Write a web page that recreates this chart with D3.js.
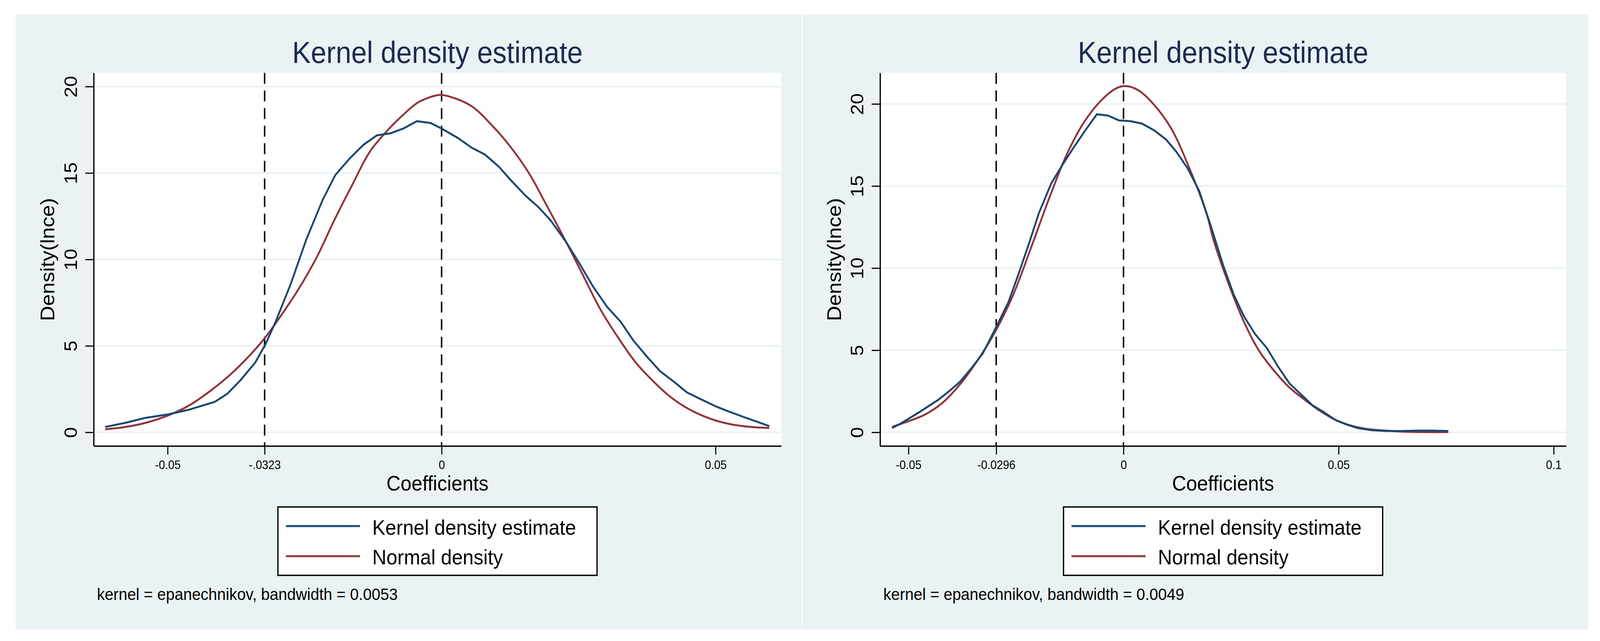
<!DOCTYPE html>
<html>
<head>
<meta charset="utf-8">
<script src="https://cdn.jsdelivr.net/npm/d3@7"></script>
<style>
  html, body { margin: 0; padding: 0; background: #ffffff; overflow: hidden; }
  svg { display: block; width: 100vw; height: 100vh; }
  text { font-family: "Liberation Sans", Arial, Helvetica, sans-serif; }
</style>
</head>
<body>
<script>
// ---- data ----
var titleText = "Kernel density estimate";
var xTitle = "Coefficients";
var yTitle = "Density(lnce)";
var legendLabels = ["Kernel density estimate", "Normal density"];
var yTicks = [0, 5, 10, 15, 20];

// left panel
var leftKdeX = [-0.0614, -0.0577, -0.0540, -0.0498, -0.0461, -0.0414, -0.0391, -0.0368, -0.0340, -0.0321, -0.0303, -0.0275, -0.0247, -0.0217, -0.0194, -0.0168, -0.0143, -0.0118, -0.0094, -0.0070, -0.0045, -0.0020, 0, 0.0030, 0.0055, 0.0079, 0.0104, 0.0127, 0.0153, 0.0176, 0.0199, 0.0227, 0.0251, 0.0276, 0.0302, 0.0327, 0.0350, 0.0376, 0.0399, 0.0425, 0.0448, 0.0474, 0.0499, 0.0525, 0.0550, 0.0574, 0.0598];
var leftKdeY = [0.31, 0.55, 0.84, 1.04, 1.31, 1.76, 2.23, 2.98, 4.04, 5.12, 6.39, 8.61, 11.15, 13.45, 14.88, 15.83, 16.62, 17.18, 17.29, 17.57, 18.00, 17.89, 17.57, 17.02, 16.46, 16.07, 15.38, 14.56, 13.69, 13.05, 12.26, 11.02, 9.80, 8.45, 7.26, 6.39, 5.31, 4.33, 3.53, 2.90, 2.30, 1.90, 1.52, 1.19, 0.90, 0.63, 0.36];
var leftNormX = [-0.0614, -0.0577, -0.0540, -0.0498, -0.0461, -0.0424, -0.0387, -0.0349, -0.0321, -0.0294, -0.0261, -0.0228, -0.0196, -0.0163, -0.0131, -0.0098, -0.0070, -0.0043, -0.0011, 0.0002, 0.0053, 0.0095, 0.0127, 0.0160, 0.0193, 0.0225, 0.0258, 0.0290, 0.0323, 0.0355, 0.0388, 0.0420, 0.0453, 0.0490, 0.0527, 0.0564, 0.0598];
var leftNormY = [0.17, 0.31, 0.55, 0.99, 1.55, 2.35, 3.30, 4.49, 5.52, 6.71, 8.29, 10.12, 12.26, 14.32, 16.23, 17.49, 18.37, 19.08, 19.48, 19.51, 18.90, 17.65, 16.46, 14.96, 13.05, 11.15, 9.09, 7.10, 5.44, 4.01, 2.90, 1.99, 1.31, 0.79, 0.47, 0.31, 0.25];
var leftRefLines = [-0.0323, 0];
var leftTicks = [-0.05, -0.0323, 0, 0.05];
var leftTickLabels = ["-0.05", "-.0323", "0", "0.05"];
var leftNote = "kernel = epanechnikov, bandwidth = 0.0053";

// right panel
var rightKdeX = [-0.0538, -0.0517, -0.0475, -0.0431, -0.0407, -0.0381, -0.0354, -0.0327, -0.0298, -0.0268, -0.0245, -0.0221, -0.0197, -0.0168, -0.0141, -0.0114, -0.0088, -0.0062, -0.0036, -0.0011, 0.0016, 0.0043, 0.0072, 0.0099, 0.0123, 0.0149, 0.0176, 0.0203, 0.0232, 0.0256, 0.0280, 0.0306, 0.0333, 0.0360, 0.0386, 0.0413, 0.0440, 0.0466, 0.0493, 0.0520, 0.0546, 0.0576, 0.0611, 0.0647, 0.0682, 0.0718, 0.0755];
var rightKdeY = [0.26, 0.55, 1.22, 1.97, 2.47, 3.05, 3.89, 4.81, 6.31, 7.90, 9.57, 11.40, 13.33, 15.16, 16.33, 17.42, 18.42, 19.37, 19.29, 19.00, 18.95, 18.80, 18.38, 17.83, 17.08, 16.08, 14.70, 12.57, 10.15, 8.40, 7.06, 5.98, 5.14, 3.97, 2.97, 2.30, 1.63, 1.22, 0.75, 0.46, 0.25, 0.13, 0.08, 0.08, 0.10, 0.10, 0.08];
var rightNormX = [-0.0538, -0.0505, -0.0464, -0.0422, -0.0381, -0.0339, -0.0298, -0.0256, -0.0215, -0.0173, -0.0132, -0.0091, -0.0049, -0.0019, 0.0003, 0.0034, 0.0069, 0.0111, 0.0152, 0.0194, 0.0209, 0.0244, 0.0280, 0.0315, 0.0351, 0.0386, 0.0422, 0.0457, 0.0493, 0.0528, 0.0564, 0.0611, 0.0659, 0.0706, 0.0755];
var rightNormY = [0.33, 0.63, 1.05, 1.77, 2.89, 4.39, 6.14, 8.40, 11.24, 14.24, 16.92, 18.92, 20.29, 20.92, 21.09, 20.84, 20.01, 18.50, 16.16, 13.24, 11.74, 9.07, 6.73, 4.97, 3.72, 2.72, 1.97, 1.30, 0.75, 0.41, 0.21, 0.10, 0.03, 0.01, 0.01];
var rightRefLines = [-0.0296, 0];
var rightTicks = [-0.05, -0.0296, 0, 0.05, 0.1];
var rightTickLabels = ["-0.05", "-0.0296", "0", "0.05", "0.1"];
var rightNote = "kernel = epanechnikov, bandwidth = 0.0049";

var bgColor = "#eaf2f3";
var kdeColor = "#1a476f";
var normColor = "#90353b";
var titleColor = "#1c2a52";

var width = 4407, height = 1640;
var svg = d3.select("body").append("svg")
  .attr("viewBox", "0 0 " + width + " " + height)
  .attr("preserveAspectRatio", "none");

function zip(xs, ys) {
  return xs.map(function(x, i) { return [x, ys[i]]; });
}

function drawPanel(p) {
  var g = svg.append("g");

  g.append("rect")
    .attr("x", p.panel[0]).attr("y", 37)
    .attr("width", p.panel[1] - p.panel[0]).attr("height", 1574)
    .attr("fill", bgColor);

  var x = d3.scaleLinear().domain(p.xDomain).range([p.plot[0], p.plot[1]]);
  var y = d3.scaleLinear().domain(p.yDomain).range([1141, 186.5]);
  var cx = (p.plot[0] + p.plot[1]) / 2;

  g.append("rect")
    .attr("x", p.plot[0]).attr("y", 186.5)
    .attr("width", p.plot[1] - p.plot[0]).attr("height", 1141 - 186.5)
    .attr("fill", "#ffffff");

  // gridlines
  g.selectAll(".grid").data(yTicks).enter().append("line")
    .attr("x1", p.plot[0]).attr("x2", p.plot[1])
    .attr("y1", function(d) { return y(d); })
    .attr("y2", function(d) { return y(d); })
    .attr("stroke", bgColor).attr("stroke-width", 4);

  // reference lines
  g.selectAll(".ref").data(p.refs).enter().append("line")
    .attr("x1", function(d) { return x(d); })
    .attr("x2", function(d) { return x(d); })
    .attr("y1", 186.5).attr("y2", 1141)
    .attr("stroke", "#000").attr("stroke-width", 4)
    .attr("stroke-dasharray", "28,17");

  var line = d3.line()
    .x(function(d) { return x(d[0]); })
    .y(function(d) { return y(d[1]); });

  g.append("path")
    .attr("d", line.curve(d3.curveCatmullRom)(zip(p.normX, p.normY)))
    .attr("fill", "none").attr("stroke", normColor).attr("stroke-width", 5)
    .attr("stroke-linejoin", "round");

  g.append("path")
    .attr("d", line.curve(d3.curveLinear)(zip(p.kdeX, p.kdeY)))
    .attr("fill", "none").attr("stroke", kdeColor).attr("stroke-width", 5)
    .attr("stroke-linejoin", "round");

  // axes
  var yAxis = g.append("g")
    .attr("transform", "translate(" + p.plot[0] + ",0)")
    .call(d3.axisLeft(y).tickValues(yTicks).tickSize(23).tickSizeOuter(0).tickFormat(d3.format("d")));
  yAxis.select(".domain").attr("stroke-width", 3.5);
  yAxis.selectAll(".tick line").attr("stroke-width", 3);
  yAxis.selectAll(".tick text")
    .attr("x", null).attr("dy", null)
    .attr("text-anchor", "middle")
    .attr("transform", "translate(-46,0) rotate(-90)")
    .attr("font-size", 50).attr("fill", "#000")
    .style("font-family", "'Liberation Sans', Arial, sans-serif");

  var xAxis = g.append("g")
    .attr("transform", "translate(0,1141)")
    .call(d3.axisBottom(x).tickValues(p.ticks).tickSize(22).tickSizeOuter(0)
      .tickFormat(function(d, i) { return p.tickLabels[i]; }));
  xAxis.select(".domain").attr("stroke-width", 3.5);
  xAxis.selectAll(".tick line").attr("stroke-width", 3);
  xAxis.selectAll(".tick text")
    .attr("y", 59).attr("dy", null)
    .attr("font-size", 31).attr("fill", "#000")
    .style("font-family", "'Liberation Sans', Arial, sans-serif");

  // titles
  g.append("text")
    .attr("x", cx).attr("y", 161)
    .attr("text-anchor", "middle")
    .attr("font-size", 77).attr("fill", titleColor)
    .text(titleText);

  g.append("text")
    .attr("x", cx).attr("y", 1255)
    .attr("text-anchor", "middle")
    .attr("font-size", 54).attr("fill", "#000")
    .text(xTitle);

  g.append("text")
    .attr("transform", "translate(" + (p.plot[0] - 108) + ",664) rotate(-90)")
    .attr("text-anchor", "middle")
    .attr("font-size", 54).attr("fill", "#000")
    .text(yTitle);

  // legend
  var lx = cx - 439.5;
  var legend = g.append("g");
  legend.append("rect")
    .attr("x", lx).attr("y", 1297)
    .attr("width", 879).attr("height", 175)
    .attr("fill", "#fff").attr("stroke", "#000").attr("stroke-width", 3.5);
  var items = [
    { label: legendLabels[0], color: kdeColor, ly: 1346, ty: 1368 },
    { label: legendLabels[1], color: normColor, ly: 1423, ty: 1444 }
  ];
  items.forEach(function(it) {
    legend.append("line")
      .attr("x1", lx + 22).attr("x2", lx + 226)
      .attr("y1", it.ly).attr("y2", it.ly)
      .attr("stroke", it.color).attr("stroke-width", 5);
    legend.append("text")
      .attr("x", lx + 260).attr("y", it.ty)
      .attr("font-size", 54).attr("fill", "#000")
      .text(it.label);
  });

  // note
  g.append("text")
    .attr("x", p.plot[0] + 9).attr("y", 1535)
    .attr("font-size", 43).attr("fill", "#000")
    .text(p.note);
}

drawPanel({
  panel: [43, 2207.7], plot: [258, 2152],
  xDomain: [-0.0635, 0.0620], yDomain: [-0.79, 20.79],
  kdeX: leftKdeX, kdeY: leftKdeY, normX: leftNormX, normY: leftNormY,
  refs: leftRefLines, ticks: leftTicks, tickLabels: leftTickLabels, note: leftNote
});

drawPanel({
  panel: [2210, 4374.7], plot: [2424, 4313.7],
  xDomain: [-0.0566, 0.1029], yDomain: [-0.833, 21.89],
  kdeX: rightKdeX, kdeY: rightKdeY, normX: rightNormX, normY: rightNormY,
  refs: rightRefLines, ticks: rightTicks, tickLabels: rightTickLabels, note: rightNote
});
</script>
</body>
</html>
